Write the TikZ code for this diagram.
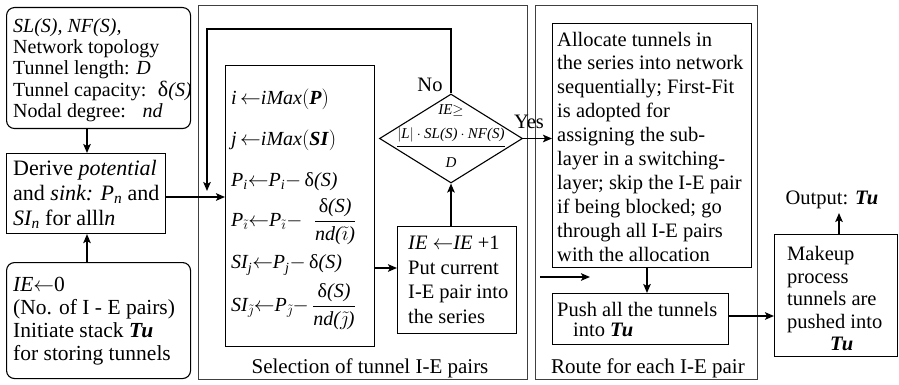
\documentclass[tikz,border=0pt]{standalone}
\usepackage{amsmath}
\usepackage{fontspec}
\setmainfont{Liberation Serif}
\usetikzlibrary{arrows.meta,shapes.geometric}
\newcommand{\vi}[1]{\textit{#1}}
\newcommand{\bvi}[1]{\textbf{\textit{#1}}}
\newcommand{\dl}{\text{δ\textit{(S)}}}
\newcommand{\la}{{\leftarrow}}
\begin{document}
\begin{tikzpicture}[x=1pt,y=-1pt,
  box/.style={draw, line width=1.1pt, inner sep=0pt, anchor=north west},
  rbox/.style={box, rounded corners=8pt},
  sect/.style={draw=black!75, line width=1.3pt, inner sep=0pt, anchor=north west},
  arr/.style={line width=1.6pt, -{Stealth[length=9pt,width=7.5pt,inset=2pt]}},
  txt/.style={font=\fontsize{20.5}{24}\selectfont, align=left, inner sep=0pt, anchor=west},
  eq/.style={font=\fontsize{20}{24}\selectfont, inner sep=0pt, anchor=west},
  dtx/.style={font=\fontsize{15}{16}\selectfont, inner sep=0pt}]
\useasboundingbox (0,0) rectangle (899,385);

% section frames
\node[sect, minimum width=329pt, minimum height=374pt] (s1) at (198,5) {};
\node[sect, minimum width=222pt, minimum height=374pt] (s2) at (535,5) {};
\node[font=\fontsize{21}{24}\selectfont, inner sep=0pt] (s1lab) at (370,368) {Selection of tunnel I-E pairs};
\node[font=\fontsize{21}{24}\selectfont, inner sep=0pt] (s2lab) at (648,368) {Route for each I-E pair};

% left column
\node[rbox, minimum width=184pt, minimum height=121pt] (b1) at (6,7) {};
\node[txt, font=\fontsize{20}{21.3}\selectfont] (t1) at ([xshift=7pt,yshift=-2pt]b1.west)
  {\vi{SL(S), NF(S),}\\ Network topology\\ Tunnel length: \vi{D}\\ Tunnel capacity:~ {\fontsize{22}{21}\selectfont δ}\vi{(S)}\\ Nodal degree:~~ \vi{nd}};

\node[box, minimum width=159pt, minimum height=80pt] (b2) at (6,153) {};
\node[txt, font=\fontsize{22}{25}\selectfont] (t2) at ([xshift=7pt,yshift=-1pt]b2.west)
  {Derive \vi{potential}\\ and \vi{sink:} $\vi{P}_{\vi{n}}$ and\\ $\vi{SI}_{\vi{n}}$ for alll\vi{n}};

\node[rbox, minimum width=184pt, minimum height=116pt] (b3) at (6,262) {};
\node[txt, font=\fontsize{21.5}{23}\selectfont] (t3) at ([xshift=7pt,yshift=-1pt]b3.west)
  {\vi{IE}$\la$0\\ (No. of I - E pairs)\\ Initiate stack \bvi{Tu}\\ for storing tunnels};

% selection section
\node[box, minimum width=149pt, minimum height=281pt] (eqb) at (225,65) {};
\node[eq] (e1) at (231,99)  {$\vi{i}\,\la\vi{iMax}(\bvi{P})$};
\node[eq] (e2) at (231,140) {$\vi{j}\,\la\vi{iMax}(\bvi{SI})$};
\node[eq] (e3) at (231,182) {$\vi{P}_{\vi{i}}\la\vi{P}_{\vi{i}}{-}\,\dl$};
\node[eq] (e4) at (231,222) {$\vi{P}_{\tilde\imath}\la\vi{P}_{\tilde\imath}{-}\;\;\dfrac{\dl}{\vi{nd(}\tilde\imath\vi{)}}$};
\node[eq] (e5) at (231,265) {$\vi{SI}_{\vi{j}}\la\vi{P}_{\vi{j}}{-}\,\dl$};
\node[eq] (e6) at (231,307) {$\vi{SI}_{\tilde\jmath}\la\vi{P}_{\tilde\jmath}{-}\,\dfrac{\dl}{\vi{nd(}\tilde\jmath\vi{)}}$};

\node[box, minimum width=119pt, minimum height=107pt] (ieb) at (397,226) {};
\node[txt, font=\fontsize{20.5}{24.5}\selectfont] (tie) at ([xshift=11pt]ieb.west)
  {\vi{IE} $\leftarrow$\vi{IE} +1\\ Put current\\ I-E pair into\\ the series};

\node[draw, line width=1.1pt, shape=diamond, minimum width=143pt, minimum height=89pt, inner sep=0pt] (dia) at (451,138.5) {};
\node[dtx] (dge) at (451,111) {$\vi{IE}{\geq}$};
\node[dtx] (dnum) at (451,135) {$|\vi{L}|\cdot\vi{SL(S)}\cdot\vi{NF(S)}$};
\node[dtx] (dden) at (451,163) {\vi{D}};
\draw[line width=0.7pt] (dnum.south west |- 0,146) -- (dnum.south east |- 0,146);
\node[font=\fontsize{20.5}{24}\selectfont, inner sep=0pt] (no) at (430,85) {No};
\node[font=\fontsize{20.5}{24}\selectfont, inner sep=0pt] (yes) at (529,122) {Yes};

% route section
\node[box, minimum width=199pt, minimum height=244pt] (alloc) at (552,23) {};
\node[txt, font=\fontsize{20.5}{23.9}\selectfont] (talloc) at ([xshift=5pt,yshift=-1pt]alloc.west)
  {Allocate tunnels in\\ the series into network\\ sequentially; First-Fit\\ is adopted for\\ assigning the sub-\\ layer in a switching-\\ layer; skip the I-E pair\\ if being blocked; go\\ through all I-E pairs\\ with the allocation};

\node[box, minimum width=176pt, minimum height=51pt] (push) at (552,293) {};
\node[txt, font=\fontsize{20.5}{20}\selectfont] (tpush) at ([xshift=5pt]push.west)
  {Push all the tunnels\\ \hspace*{16pt}into \bvi{Tu}};

\node[box, minimum width=123pt, minimum height=122pt] (mk) at (774,234) {};
\node[txt, font=\fontsize{20.5}{22.5}\selectfont] (tmk) at ([xshift=13pt,yshift=-3pt]mk.west)
  {Makeup\\ process\\ tunnels are\\ pushed into\\ \hspace*{43pt}\bvi{Tu}};

\node[font=\fontsize{20.5}{24}\selectfont, inner sep=0pt] (out) at (832,200) {Output: \bvi{Tu}};

% connectors
\draw[arr] (b1.south -| 87,0) -- (b2.north -| 87,0);
\draw[arr] (b3.north -| 87,0) -- (b2.south -| 87,0);
\draw[arr] (b2.east |- 0,197) -- (eqb.west |- 0,197);
\coordinate (fb) at (207,191);
\draw[arr] (dia.north) -- (451,29) -| (fb);
\draw[arr] (eqb.east |- 0,268) -- (ieb.west |- 0,268);
\draw[arr] (ieb.north -| dia.south) -- (dia.south);
\draw[arr] (dia.east) -- (dia.east -| alloc.west);
\coordinate (fa1) at (540,277);
\coordinate (fa2) at (590,277);
\draw[arr] (fa1) -- (fa2);
\draw[arr] (alloc.south -| 647,0) -- (push.north -| 647,0);
\draw[arr] (push.east |- 0,316) -- (mk.west |- 0,316);
\draw[arr] (mk.north -| 839,0) -- (839,213);
\end{tikzpicture}
\end{document}
